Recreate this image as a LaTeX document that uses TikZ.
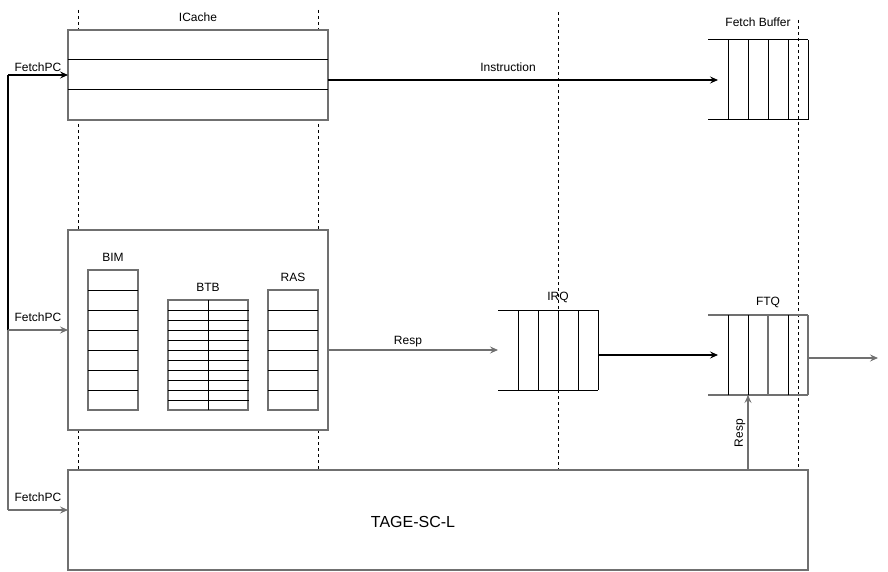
\documentclass[tikz,border=0pt]{standalone}
\usepackage{fontspec}
\setmainfont{Liberation Sans}
\usetikzlibrary{arrows.meta}
\definecolor{bord}{HTML}{707070}
\begin{document}
\begin{tikzpicture}[x=1pt,y=-1pt,
  box/.style={draw=bord, line width=1.1pt, fill=white, inner sep=0pt, outer sep=0pt, anchor=north west},
  area/.style={inner sep=0pt, outer sep=0pt, anchor=north west},
  lbl/.style={font=\fontsize{12}{14}\selectfont, inner sep=0pt},
  guide/.style={black, line width=0.8pt, dash pattern=on 3pt off 3pt},
  cell/.style={black, line width=1pt},
  arr/.style={-{Stealth[length=8pt,width=7pt,inset=3pt]}, line width=1.1pt},
  garr/.style={arr, draw=bord}
]
\useasboundingbox (0,0) rectangle (888,572);

% guide lines
\coordinate (g1t) at (78,10);  \coordinate (g1b) at (78,470);
\coordinate (g2t) at (318,10); \coordinate (g2b) at (318,470);
\coordinate (g3t) at (558,12); \coordinate (g3b) at (558,470);
\coordinate (g4t) at (798,20); \coordinate (g4b) at (798,470);
\draw[guide] (g1t) -- (g1b);
\draw[guide] (g2t) -- (g2b);
\draw[guide] (g3t) -- (g3b);
\draw[guide] (g4t) -- (g4b);

% ICache
\node[box, minimum width=260pt, minimum height=90pt] (icache) at (68,30) {};
\draw[cell] (68,60) -- (328,60);
\draw[cell] (68,90) -- (328,90);
\node[lbl] (icachelbl) at (198,17) {ICache};

% Fetch buffer
\node[area, minimum width=100pt, minimum height=80pt] (fb) at (708,40) {};
\draw[cell] (fb.north west) -- (fb.north east);
\draw[cell] (fb.south west) -- (fb.south east);
\foreach \x in {728,748,768,788,808} \draw[cell] (\x,40) -- (\x,120);
\node[lbl] (fblbl) at (758,22) {Fetch Buffer};
\coordinate (fbin) at (718,80);

% Predictor box
\node[box, minimum width=260pt, minimum height=200pt] (pred) at (68,230) {};
% BIM
\node[box, minimum width=50pt, minimum height=140pt] (bim) at (88,270) {};
\foreach \y in {290,310,330,350,370,390} \draw[cell] (88,\y) -- (138,\y);
\node[lbl] (bimlbl) at (113,257) {BIM};
% BTB
\node[box, minimum width=80pt, minimum height=110pt] (btb) at (168,300) {};
\foreach \y in {310,320,...,400} \draw[cell] (168,\y) -- (249,\y);
\draw[cell] (208,300) -- (208,410);
\node[lbl] (btblbl) at (208,287) {BTB};
% RAS
\node[box, minimum width=50pt, minimum height=120pt] (ras) at (268,290) {};
\foreach \y in {310,330,350,370,390} \draw[cell] (268,\y) -- (318,\y);
\node[lbl] (raslbl) at (293,277) {RAS};

% IRQ
\node[area, minimum width=100pt, minimum height=80pt] (irq) at (498,310) {};
\draw[cell] (irq.north west) -- (irq.north east);
\draw[cell] (irq.south west) -- (irq.south east);
\foreach \x in {518,538,558,578,598} \draw[cell] (\x,310) -- (\x,390);
\node[lbl] (irqlbl) at (558,297) {IRQ};

% FTQ
\node[area, minimum width=100pt, minimum height=80pt] (ftq) at (708,315) {};
\draw[draw=bord, line width=1.1pt] (ftq.north west) -- (ftq.north east);
\draw[draw=bord, line width=1.1pt] (ftq.south west) -- (ftq.south east);
\foreach \x in {728,748,788} \draw[cell] (\x,315) -- (\x,395);
\foreach \x in {768,808} \draw[draw=bord, line width=1.1pt] (\x,315) -- (\x,395);
\node[lbl] (ftqlbl) at (768,302) {FTQ};
\coordinate (ftqin) at (718,355);
\coordinate (ftqout) at (878,358);

% TAGE
\node[box, minimum width=740pt, minimum height=100pt] (tage) at (68,470) {};
\node[font=\fontsize{16}{19}\selectfont, inner sep=0pt] (tagelbl) at (413,522) {TAGE-SC-L};

% FetchPC connectors
\coordinate (pctop) at (8,75);
\coordinate (pcmid) at (8,330);
\coordinate (pcbot) at (8,510);
\draw[line width=1.1pt] (pctop) -- (pcmid);
\draw[line width=1.1pt, draw=bord] (pcmid) -- (pcbot);
\draw[arr] (pctop) -- (icache.west);
\draw[garr] (pcmid) -- (pred.west);
\draw[garr] (pcbot) -- (tage.west |- pcbot);
\node[lbl] (pc1) at (38,67) {FetchPC};
\node[lbl] (pc2) at (38,317) {FetchPC};
\node[lbl] (pc3) at (38,497) {FetchPC};

% Instruction
\draw[arr] (icache.east |- fbin) -- (fbin);
\node[lbl] (instlbl) at (508,67) {Instruction};

% Resp to IRQ
\draw[garr] (pred.east |- 0,350) -- (irq.west |- 0,350);
\node[lbl] (resplbl) at (408,342) {Resp};

% IRQ to FTQ
\draw[arr] (irq.east |- ftqin) -- (ftqin);

% FTQ out
\draw[garr] (ftq.east |- ftqout) -- (ftqout);

% Resp up from TAGE to FTQ
\draw[garr] (tage.north -| 748,0) -- (ftq.south -| 748,0);
\node[lbl, rotate=90] (resp2lbl) at (740,433) {Resp};
\end{tikzpicture}
\end{document}
